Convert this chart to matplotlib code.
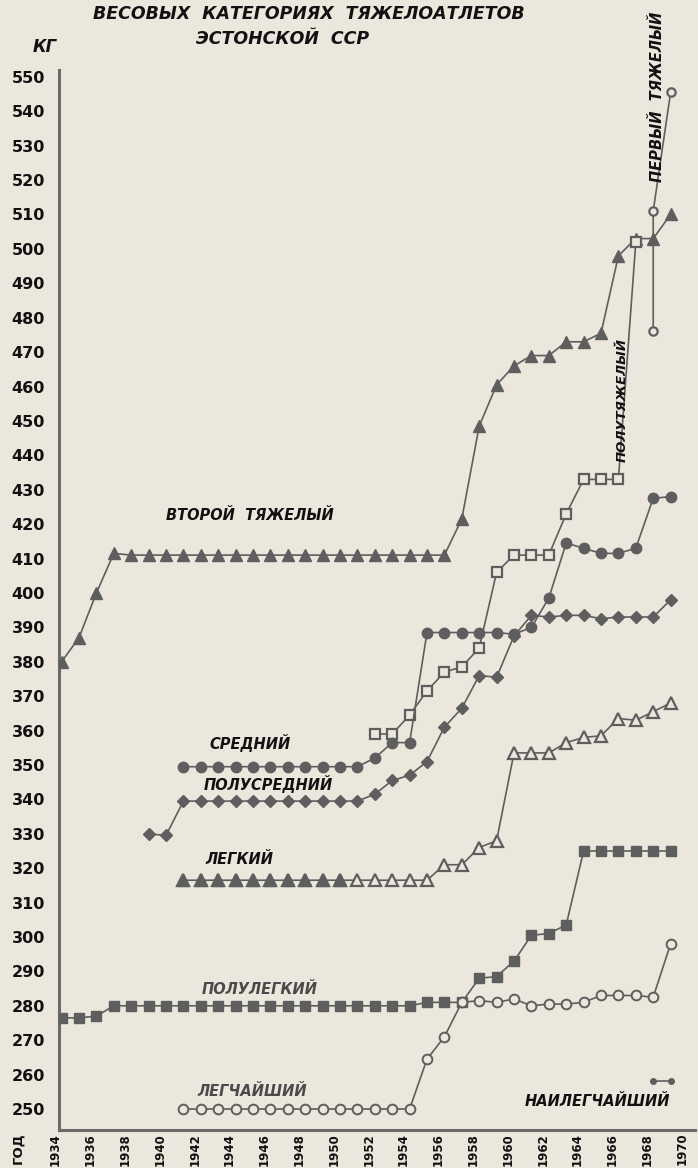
import matplotlib
matplotlib.use('Agg')
import matplotlib.pyplot as plt
from matplotlib.transforms import ScaledTranslation

# ---------------- data (kg, totals by year) ----------------
vtoroy_years = list(range(1934, 1970))
vtoroy_vals = [380, 387, 400, 411.5] + [411] * 19 + [421.5, 448.5, 460.5, 466, 469, 469,
                                                    473, 473, 475.5, 498, 503, 503, 510]

polutyazh_years = list(range(1952, 1968))
polutyazh_vals = [359, 359, 364.5, 371.5, 377, 378.5, 384, 406, 411, 411, 411,
                  423, 433, 433, 433, 502]

perviy_years = [1968, 1968, 1969]
perviy_vals = [476, 511, 545.5]

sredniy_years = list(range(1941, 1970))
sredniy_vals = [349.5] * 11 + [352, 356.5, 356.5, 388.5, 388.5, 388.5, 388.5, 388.5, 388,
                               390, 398.5, 414.5, 413, 411.5, 411.5, 413, 427.5, 428]

polusred_years = list(range(1939, 1970))
polusred_vals = [330, 329.5] + [339.5] * 11 + [341.5, 345.5, 347, 351, 361, 366.5, 376, 375.5,
                                               387.5, 393.5, 393, 393.5, 393.5, 392.5, 393,
                                               393, 393, 398]

legkiy_years = list(range(1941, 1970))
legkiy_vals = [316.5] * 15 + [321, 321, 326, 328, 353.5, 353.5, 353.5, 356.5, 358, 358.5,
                              363.5, 363, 365.5, 368]
legkiy_filled_until = 1950

polulegk_years = list(range(1934, 1970))
polulegk_vals = [276.5, 276.5, 277] + [280] * 18 + [281, 281, 281, 288, 288.5, 293, 300.5,
                                                    301, 303.5] + [325] * 6

legchay_years = list(range(1941, 1970))
legchay_vals = [250] * 14 + [264.5, 271, 281, 281.5, 281, 282, 280, 280.5, 280.5, 281,
                             283, 283, 283, 282.5, 298]

nailegch_years = [1968, 1969]
nailegch_vals = [258, 258]

xtick_years = list(range(1934, 1971, 2))
xtick_labels = [str(y) for y in xtick_years]
ytick_vals = list(range(250, 551, 10))
ytick_labels = [str(v) for v in ytick_vals]

# ---------------- style ----------------
W, H = 698, 1168
BG = '#ebe7dc'
LC = '#5e5e5e'
TXT = '#111111'

fig = plt.figure(figsize=(W / 100, H / 100), dpi=100, facecolor=BG)


def fx(px):
    return px / W


def fy(py):
    return 1 - py / H


ax = fig.add_axes([fx(59), fy(1130), (695 - 59) / W, (1130 - 70) / H])
ax.set_facecolor(BG)
ax.set_xlim(1933.85, 1933.85 + 636 / 17.4)
ax.set_ylim(243.9, 552.0)
for s in ['top', 'right']:
    ax.spines[s].set_visible(False)
for s in ['left', 'bottom']:
    ax.spines[s].set_color('#6a6a6a')
    ax.spines[s].set_linewidth(2.2)

ax.set_yticks(ytick_vals)
ax.set_yticklabels(ytick_labels, fontsize=11.5, fontweight='bold', color=TXT)
ax.set_xticks(xtick_years)
ax.set_xticklabels(xtick_labels, rotation=90, fontsize=8.5, fontweight='bold', color=TXT)
ax.tick_params(axis='y', length=0, pad=10)
ax.tick_params(axis='x', length=0, pad=2)
shift = ScaledTranslation(-6 / 100, 0, fig.dpi_scale_trans)
for t in ax.get_xticklabels():
    t.set_transform(t.get_transform() + shift)

lw = 1.2
common = dict(color=LC, lw=lw, zorder=3)

# второй тяжелый
ax.plot(vtoroy_years, vtoroy_vals, marker='^', ms=8.5, mfc=LC, mec=LC, **common)
# полутяжелый
ax.plot(polutyazh_years, polutyazh_vals, marker='s', ms=6.5, mfc=BG, mec=LC, mew=1.6, **common)
# первый тяжелый
ax.plot(perviy_years, perviy_vals, marker='o', ms=6, mfc=BG, mec=LC, mew=1.6, **common)
# средний
ax.plot(sredniy_years, sredniy_vals, marker='o', ms=7.5, mfc=LC, mec=LC, **common)
# полусредний
ax.plot(polusred_years, polusred_vals, marker='D', ms=6, mfc=LC, mec=LC, **common)
# легкий
ax.plot(legkiy_years, legkiy_vals, marker='^', ms=8, mfc=BG, mec=LC, mew=1.6, **common)
fy_idx = [i for i, y in enumerate(legkiy_years) if y <= legkiy_filled_until]
ax.plot([legkiy_years[i] for i in fy_idx], [legkiy_vals[i] for i in fy_idx],
        ls='none', marker='^', ms=8.5, mfc=LC, mec=LC, zorder=4)
# полулегкий
ax.plot(polulegk_years, polulegk_vals, marker='s', ms=6.5, mfc=LC, mec=LC, **common)
# легчайший
ax.plot(legchay_years, legchay_vals, marker='o', ms=7, mfc=BG, mec=LC, mew=1.4, **common)
# наилегчайший
ax.plot(nailegch_years, nailegch_vals, marker='o', ms=4, mfc=LC, mec=LC, **common)

# ---------------- texts ----------------
lab = dict(fontweight='bold', fontstyle='italic', color=TXT, zorder=6)
fig.text(fx(309), fy(14), 'ВЕСОВЫХ  КАТЕГОРИЯХ  ТЯЖЕЛОАТЛЕТОВ', ha='center', va='center',
         fontsize=12.5, **lab)
fig.text(fx(283), fy(39), 'ЭСТОНСКОЙ  ССР', ha='center', va='center', fontsize=12.5, **lab)
fig.text(fx(45), fy(47), 'КГ', ha='center', va='center', fontsize=12, **lab)
fig.text(fx(18), fy(1148), 'ГОД', ha='center', va='center', rotation=90, fontsize=9.5,
         fontweight='bold', color=TXT)

fig.text(fx(250), fy(516), 'ВТОРОЙ  ТЯЖЕЛЫЙ', ha='center', va='center', fontsize=10.5, **lab)
fig.text(fx(250), fy(743), 'СРЕДНИЙ', ha='center', va='center', fontsize=10.5, **lab)
fig.text(fx(268), fy(784), 'ПОЛУСРЕДНИЙ', ha='center', va='center', fontsize=10.5, **lab)
fig.text(fx(239), fy(860), 'ЛЕГКИЙ', ha='center', va='center', fontsize=10.5, **lab)
lab_gray = dict(lab)
lab_gray['color'] = '#4a4a4a'
fig.text(fx(260), fy(990), 'ПОЛУЛЕГКИЙ', ha='center', va='center', fontsize=10.5, **lab_gray)
fig.text(fx(252), fy(1091), 'ЛЕГЧАЙШИЙ', ha='center', va='center', fontsize=10.5, **lab_gray)
fig.text(fx(597), fy(1102), 'НАИЛЕГЧАЙШИЙ', ha='center', va='center', fontsize=10.5, **lab)
fig.text(fx(622), fy(400), 'ПОЛУТЯЖЕЛЫЙ', ha='center', va='center', rotation=90,
         fontsize=9.5, **lab)
fig.text(fx(657), fy(97), 'ПЕРВЫЙ  ТЯЖЕЛЫЙ', ha='center', va='center', rotation=90,
         fontsize=10.5, **lab)

fig.savefig('out.png', dpi=100, facecolor=BG)
